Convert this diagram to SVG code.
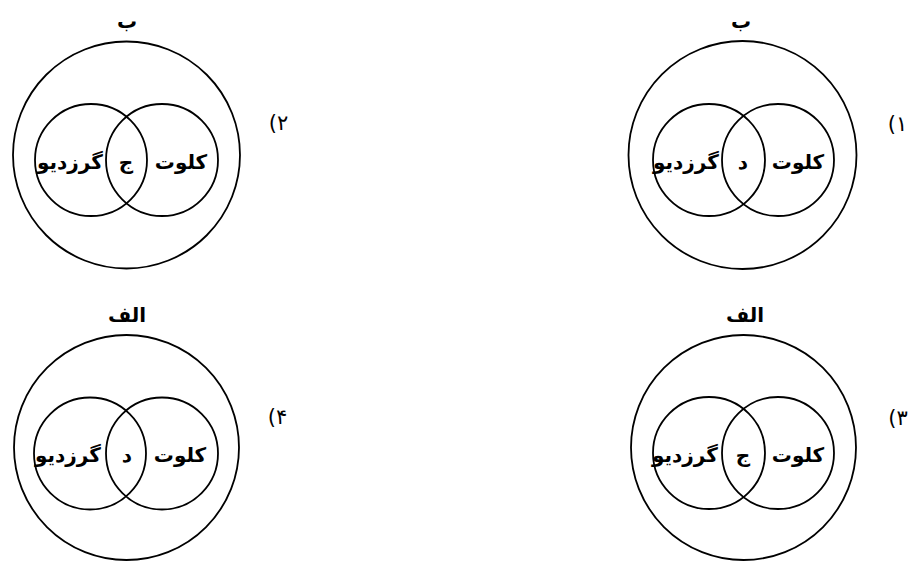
<svg xmlns="http://www.w3.org/2000/svg" width="909" height="561" viewBox="0 0 909 561">
<style>
.c{fill:none;stroke:#000;stroke-width:1.8}
.t{font-family:"DejaVu Sans",sans-serif;font-size:20px;font-weight:bold;fill:#000;text-anchor:middle}
.n{font-family:"DejaVu Sans",sans-serif;font-size:21px;fill:#000;text-anchor:middle}
</style>
<rect width="909" height="561" fill="#fff"/>
<g id="diagram2">
<circle class="c" cx="126.5" cy="155" r="113.5"/>
<circle class="c" cx="91" cy="160" r="56"/>
<circle class="c" cx="162" cy="160" r="56"/>
<text class="t" x="127" y="28">ب</text>
<text class="t" x="70" y="169">گرزدیو</text>
<text class="t" x="126" y="169">ج</text>
<text class="t" x="181" y="169">کلوت</text>
<text class="n" x="278.5" y="130">(۲</text>
</g>
<g id="diagram1">
<circle class="c" cx="742.5" cy="155" r="114"/>
<circle class="c" cx="709" cy="160" r="56"/>
<circle class="c" cx="778" cy="160" r="56"/>
<text class="t" x="741" y="28">ب</text>
<text class="t" x="686" y="169">گرزدیو</text>
<text class="t" x="743" y="169">د</text>
<text class="t" x="798" y="169">کلوت</text>
<text class="n" x="897.5" y="131">(۱</text>
</g>
<g id="diagram4">
<circle class="c" cx="126.5" cy="447.5" r="112.5"/>
<circle class="c" cx="90" cy="453.5" r="56"/>
<circle class="c" cx="162" cy="453.5" r="56"/>
<text class="t" x="127" y="322">الف</text>
<text class="t" x="68" y="462">گرزدیو</text>
<text class="t" x="127" y="462">د</text>
<text class="t" x="180" y="462">کلوت</text>
<text class="n" x="277.5" y="424">(۴</text>
</g>
<g id="diagram3">
<circle class="c" cx="743.5" cy="447.5" r="112.5"/>
<circle class="c" cx="709" cy="453" r="56"/>
<circle class="c" cx="778" cy="453" r="56"/>
<text class="t" x="745" y="322">الف</text>
<text class="t" x="685" y="462">گرزدیو</text>
<text class="t" x="743" y="462">ج</text>
<text class="t" x="798" y="462">کلوت</text>
<text class="n" x="898" y="425">(۳</text>
</g>
<g id="connectors"></g>
</svg>
